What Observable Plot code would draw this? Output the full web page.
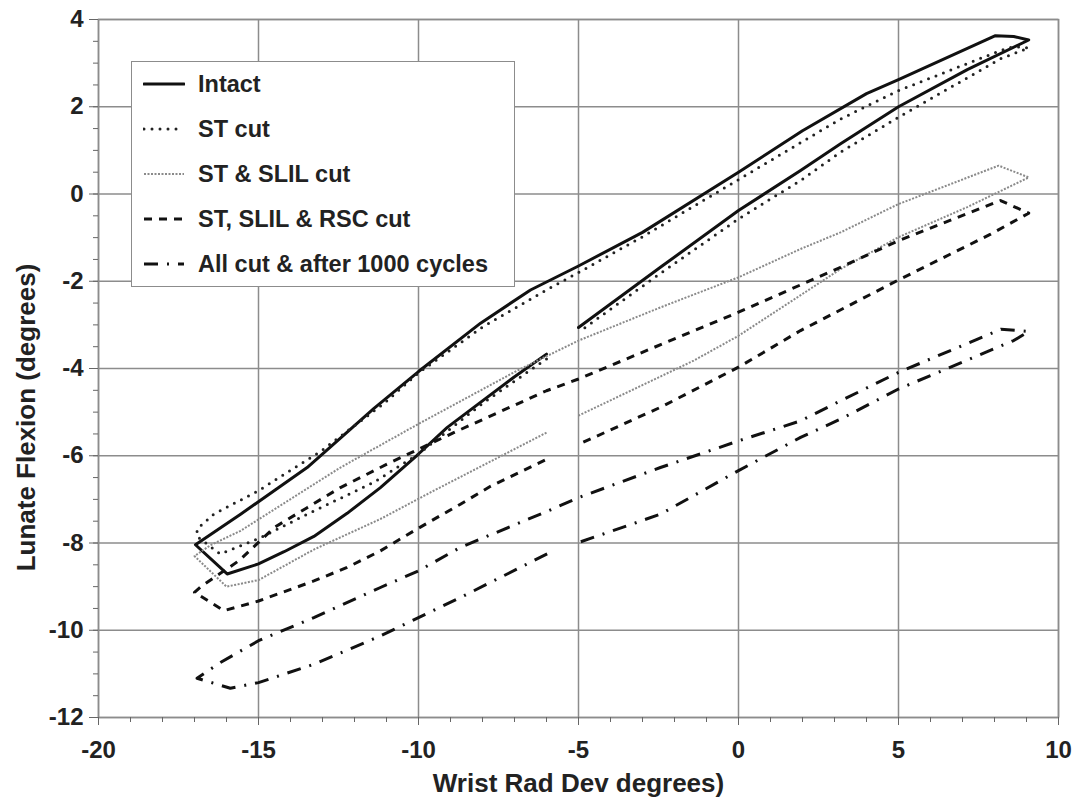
<!DOCTYPE html>
<html>
<head>
<meta charset="utf-8">
<script src="https://cdn.jsdelivr.net/npm/d3@7"></script>
<script src="https://cdn.jsdelivr.net/npm/@observablehq/plot@0.6"></script>
<style>
  body { margin: 0; background: #fff; }
  #wrap { position: relative; width: 1087px; height: 802px; font-family: "Liberation Sans", Arial, sans-serif; }
  #legend { position: absolute; left: 131px; top: 61px; width: 384px; height: 226px; box-sizing: border-box;
            background: #fff; border: 1.5px solid #8c8c8c; }
  .item { position: absolute; left: 0; height: 30px; display: flex; align-items: center; }
  .item svg { margin-left: 11px; }
  .item span { margin-left: 13px; font-size: 23.5px; font-weight: bold; color: #222; white-space: nowrap; }
</style>
</head>
<body>
<div id="wrap"></div>
<script>
// ---------- data ----------
const seriesNames = ["Intact", "ST cut", "ST & SLIL cut", "ST, SLIL & RSC cut", "All cut & after 1000 cycles"];

const xTickValues = [-20, -15, -10, -5, 0, 5, 10];
const yTickValues = [-12, -10, -8, -6, -4, -2, 0, 2, 4];

const intactX = [-6, -7.02, -9.1, -10, -11.19, -12.23, -13.27, -14.2, -15, -15.98, -16.97, -15.56, -13.48, -11.4, -10, -8.06, -6.5, -5, -3, 0, 2, 4, 5, 8.03, 8.6, 9.07, 7.15, 5, 3.19, 1.94, 0, -2.44, -5];
const intactY = [-3.67, -4.2, -5.35, -5.96, -6.73, -7.32, -7.85, -8.2, -8.48, -8.71, -8.04, -7.34, -6.27, -4.92, -4.07, -2.96, -2.2, -1.65, -0.88, 0.5, 1.45, 2.3, 2.62, 3.63, 3.61, 3.53, 2.85, 2.0, 1.15, 0.54, -0.38, -1.68, -3.06];

const stX = [-6, -8, -10, -11.4, -13.48, -15, -16.2, -16.92, -16.92, -16.4, -15, -13.06, -11.08, -10, -8, -6, -5, -3, 0, 3.19, 5, 8.19, 8.6, 9.07, 8.19, 5, 3.19, 1.94, 0, -2.5, -5];
const stY = [-3.78, -4.8, -5.96, -6.61, -7.34, -7.9, -8.25, -7.85, -7.68, -7.34, -6.8, -5.9, -4.8, -4.1, -3.05, -2.2, -1.8, -0.98, 0.33, 1.72, 2.37, 3.29, 3.38, 3.35, 3.1, 1.76, 0.96, 0.31, -0.57, -1.85, -3.17];

const slilX = [-6, -9.52, -11.19, -13.27, -15, -16, -17, -16.5, -15.56, -12.44, -10, -6.92, -5, -2.44, 0, 1.94, 3.19, 5, 8.13, 9.07, 7.15, 5, 3.19, 0, -1.4, -5];
const slilY = [-5.47, -6.8, -7.45, -8.15, -8.85, -9.0, -8.3, -8.05, -7.72, -6.27, -5.27, -4.05, -3.36, -2.6, -1.91, -1.26, -0.88, -0.23, 0.65, 0.38, -0.3, -0.99, -1.72, -3.25, -3.82, -5.08];

const rscX = [-6.05, -7.75, -8.69, -10, -11.19, -12.23, -13.27, -15, -16.08, -17, -16.8, -15.6, -14.5, -13.48, -12.44, -10.98, -8.9, -6, -5, -2.65, 0, 3.19, 5, 8.19, 9.07, 7.88, 5, 1.94, 0, -2.44, -5];
const rscY = [-6.1, -6.7, -7.11, -7.66, -8.18, -8.56, -8.87, -9.33, -9.55, -9.13, -9.0, -8.4, -7.64, -7.19, -6.73, -6.19, -5.47, -4.51, -4.24, -3.52, -2.71, -1.68, -1.07, -0.15, -0.44, -0.92, -1.97, -3.13, -3.97, -4.89, -5.74];

const allX = [-5.98, -8.69, -10, -11.19, -13.27, -15, -15.88, -16.92, -16.19, -15, -13.27, -11.19, -10, -8.69, -6, -5, -2.44, 0, 1.94, 3.19, 5, 8.2, 9.07, 8.6, 5, 3.19, 1.94, 0, -2.44, -5];
const allY = [-8.25, -9.25, -9.71, -10.13, -10.78, -11.2, -11.33, -11.1, -10.74, -10.24, -9.71, -9.02, -8.64, -8.1, -7.28, -6.96, -6.27, -5.66, -5.2, -4.74, -4.09, -3.1, -3.15, -3.36, -4.47, -5.16, -5.58, -6.34, -7.34, -7.99];

// ---------- styles ----------
const styles = [
  {stroke: "#111", strokeWidth: 3, dash: null, cap: "round"},
  {stroke: "#222", strokeWidth: 3, dash: "0,8", cap: "round"},
  {stroke: "#8a8a8a", strokeWidth: 2, dash: "2,1.5", cap: "butt"},
  {stroke: "#111", strokeWidth: 3, dash: "8,7", cap: "butt"},
  {stroke: "#111", strokeWidth: 3, dash: "14,9,2,9", cap: "butt"}
];

const pairs = (xs, ys) => xs.map((x, i) => ({x, y: ys[i]}));
const seriesData = [pairs(intactX, intactY), pairs(stX, stY), pairs(slilX, slilY), pairs(rscX, rscY), pairs(allX, allY)];

const xMinor = d3.range(-20, 10.001, 1);
const yMinor = d3.range(-12, 4.001, 0.5);
const font = "'Liberation Sans', Arial, sans-serif";

const lineMarks = seriesData.map((data, i) => Plot.line(data, {
  x: "x", y: "y",
  stroke: styles[i].stroke,
  strokeWidth: styles[i].strokeWidth,
  strokeDasharray: styles[i].dash ?? undefined,
  strokeLinecap: styles[i].cap,
  strokeLinejoin: "round"
}));

const chart = Plot.plot({
  width: 1087,
  height: 802,
  marginLeft: 98,
  marginRight: 29,
  marginTop: 19,
  marginBottom: 85,
  x: {domain: [-20, 10]},
  y: {domain: [-12, 4]},
  style: {fontFamily: font, background: "#fff", overflow: "visible"},
  marks: [
    Plot.gridX({ticks: xTickValues, stroke: "#8c8c8c", strokeOpacity: 1, strokeWidth: 1.5}),
    Plot.gridY({ticks: yTickValues, stroke: "#8c8c8c", strokeOpacity: 1, strokeWidth: 1.5}),
    Plot.frame({stroke: "#8c8c8c", strokeWidth: 1.5}),
    Plot.axisX({ticks: xMinor, tickSize: 5, tickFormat: () => "", label: null, stroke: "#666"}),
    Plot.axisY({ticks: yMinor, tickSize: 5, tickFormat: () => "", label: null, stroke: "#666"}),
    Plot.axisX({ticks: xTickValues, tickSize: 8, tickPadding: 15, tickFormat: d => String(d), label: null,
                stroke: "#666", fill: "#222", fontSize: 24, fontWeight: "bold"}),
    Plot.axisY({ticks: yTickValues, tickSize: 9, tickPadding: 6, tickFormat: d => String(d), label: null,
                stroke: "#666", fill: "#222", fontSize: 24, fontWeight: "bold"}),
    ...lineMarks,
    Plot.text(["Wrist Rad Dev degrees)"], {text: d => d, frameAnchor: "bottom", dy: 66, lineAnchor: "middle",
                fontSize: 26, fontWeight: "bold", fill: "#222"}),
    Plot.text(["Lunate Flexion (degrees)"], {text: d => d, frameAnchor: "left", dx: -72, dy: 49, rotate: -90,
                lineAnchor: "middle", textAnchor: "middle", fontSize: 26, fontWeight: "bold", fill: "#222"})
  ]
});

const wrap = document.getElementById("wrap");
wrap.appendChild(chart);

// ---------- legend (overlay) ----------
const legend = document.createElement("div");
legend.id = "legend";
seriesNames.forEach((name, i) => {
  const st = styles[i];
  const item = document.createElement("div");
  item.className = "item";
  item.style.top = (7 + i * 45) + "px";
  item.innerHTML = `<svg width="42" height="10"><line x1="1" y1="5" x2="41" y2="5" stroke="${st.stroke}"
    stroke-width="${st.strokeWidth}" ${st.dash ? `stroke-dasharray="${st.dash}"` : ""} stroke-linecap="${st.cap}"/></svg><span></span>`;
  item.querySelector("span").textContent = name;
  legend.appendChild(item);
});
wrap.appendChild(legend);
</script>
</body>
</html>
